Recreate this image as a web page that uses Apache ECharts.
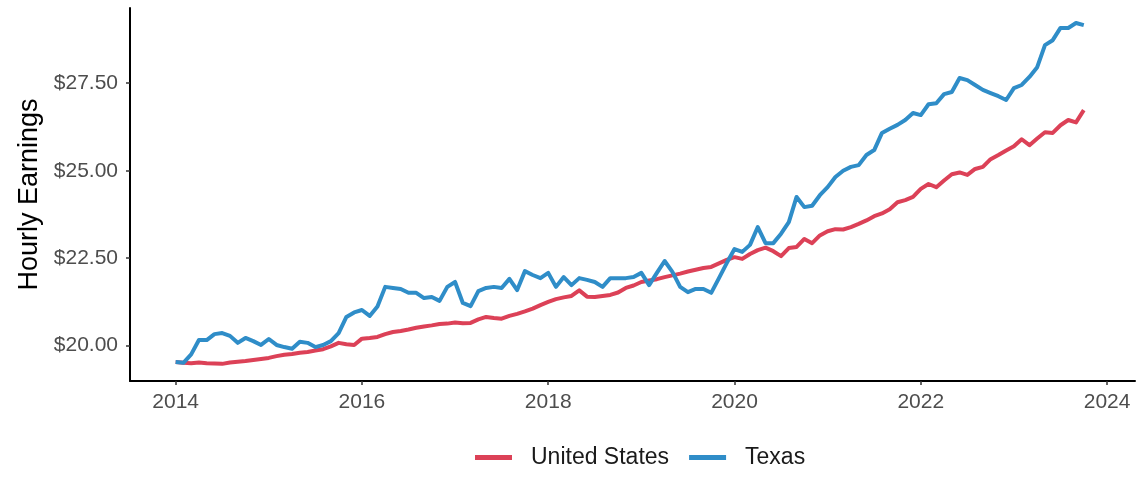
<!DOCTYPE html>
<html>
<head>
<meta charset="utf-8">
<title>Hourly Earnings</title>
<script src="https://cdn.jsdelivr.net/npm/echarts@6/dist/echarts.min.js"></script>
<style>
  html, body { margin: 0; padding: 0; background: #fff; }
  #chart { width: 1138px; height: 496px; }
</style>
</head>
<body>
<div id="chart"></div>
<script>
// monthly values, Jan 2014 .. Oct 2023
const startYear = 2014
const unitedStates = [
  19.53, 19.51, 19.50, 19.52, 19.50, 19.49, 19.48, 19.52, 19.54, 19.56, 19.59, 19.62,
  19.65, 19.70, 19.74, 19.76, 19.80, 19.82, 19.86, 19.90, 19.98, 20.08, 20.04, 20.02,
  20.20, 20.22, 20.25, 20.33, 20.39, 20.42, 20.46, 20.51, 20.55, 20.58, 20.62, 20.63,
  20.66, 20.64, 20.65, 20.75, 20.82, 20.79, 20.77, 20.85, 20.91, 20.98, 21.06, 21.16,
  21.25, 21.33, 21.38, 21.42, 21.58, 21.40, 21.39, 21.42, 21.45, 21.52, 21.65, 21.72,
  21.82, 21.86, 21.90, 21.96, 22.01, 22.06, 22.12, 22.17, 22.22, 22.25, 22.35, 22.45,
  22.53, 22.48, 22.62, 22.73, 22.80, 22.70, 22.56, 22.79, 22.82, 23.05, 22.93, 23.15,
  23.27, 23.33, 23.32, 23.39, 23.48, 23.58, 23.70, 23.78, 23.90, 24.10, 24.16, 24.25,
  24.48, 24.62, 24.53, 24.72, 24.90, 24.95, 24.88, 25.05, 25.11, 25.33, 25.45, 25.58,
  25.70, 25.90, 25.73, 25.92, 26.10, 26.08, 26.30, 26.45, 26.38, 26.73
]
const texas = [
  19.53, 19.51, 19.75, 20.16, 20.16, 20.33, 20.36, 20.28, 20.08, 20.22, 20.13, 20.02,
  20.19, 20.02, 19.96, 19.91, 20.11, 20.08, 19.96, 20.02, 20.13, 20.36, 20.82, 20.95,
  21.02, 20.85, 21.12, 21.68, 21.65, 21.62, 21.51, 21.51, 21.36, 21.39, 21.28, 21.68,
  21.82, 21.22, 21.13, 21.56, 21.65, 21.68, 21.65, 21.91, 21.59, 22.13, 22.02, 21.93,
  22.08, 21.68, 21.96, 21.73, 21.93, 21.88, 21.82, 21.68, 21.93, 21.93, 21.93, 21.96,
  22.08, 21.73, 22.08, 22.42, 22.11, 21.68, 21.53, 21.62, 21.62, 21.51, 21.93, 22.36,
  22.76, 22.68, 22.88, 23.39, 22.93, 22.93, 23.20, 23.53, 24.25, 23.96, 24.00, 24.30,
  24.53, 24.82, 25.00, 25.11, 25.16, 25.45, 25.59, 26.08, 26.20, 26.31, 26.45, 26.65,
  26.59, 26.90, 26.93, 27.19, 27.25, 27.65, 27.59, 27.45, 27.31, 27.22, 27.13, 27.02,
  27.36, 27.45, 27.68, 27.96, 28.59, 28.73, 29.08, 29.08, 29.22, 29.16
]
const xTicks = [2014, 2016, 2018, 2020, 2022, 2024]
const yTicks = [20, 22.5, 25, 27.5]
const seriesNames = ['United States', 'Texas']

const toPoints = arr => arr.map((v, i) => [startYear + i / 12, v])

let chartDom = document.getElementById('chart')
let chart = echarts.init(chartDom)

const font = 'Liberation Sans, Arial, sans-serif'

const option = {
  animation: false,
  grid: {
    left: 130,
    right: 3,
    top: 8,
    bottom: 115,
    containLabel: false
  },
  legend: {
    data: seriesNames,
    left: 470,
    top: 441,
    icon: 'rect',
    itemWidth: 37,
    itemHeight: 5,
    itemGap: 20,
    textStyle: {
      fontFamily: font,
      fontSize: 23,
      color: '#1a1a1a',
      padding: [0, 0, 0, 14]
    }
  },
  xAxis: {
    type: 'value',
    min: 2013.51,
    max: 2024.3,
    splitLine: { show: false },
    axisLine: { lineStyle: { color: '#000', width: 2 } },
    axisTick: {
      customValues: xTicks,
      length: 4,
      lineStyle: { color: '#333', width: 1.5 }
    },
    axisLabel: {
      customValues: xTicks,
      margin: 11,
      fontFamily: font,
      fontSize: 21,
      color: '#4d4d4d',
      formatter: v => String(v)
    }
  },
  yAxis: {
    type: 'value',
    min: 18.99,
    max: 29.65,
    name: 'Hourly Earnings',
    nameLocation: 'middle',
    nameGap: 86,
    nameRotate: 90,
    nameTextStyle: {
      fontFamily: font,
      fontSize: 27,
      color: '#000'
    },
    splitLine: { show: false },
    axisLine: { show: true, lineStyle: { color: '#000', width: 2 } },
    axisTick: {
      show: true,
      customValues: yTicks,
      length: 4,
      lineStyle: { color: '#333', width: 1.5 }
    },
    axisLabel: {
      customValues: yTicks,
      margin: 12,
      fontFamily: font,
      fontSize: 21,
      color: '#4d4d4d',
      formatter: v => '$' + v.toFixed(2)
    }
  },
  series: [
    {
      name: seriesNames[0],
      type: 'line',
      data: toPoints(unitedStates),
      showSymbol: false,
      color: '#dc4157',
      lineStyle: { width: 4, join: 'round' }
    },
    {
      name: seriesNames[1],
      type: 'line',
      data: toPoints(texas),
      showSymbol: false,
      color: '#2f8dc8',
      lineStyle: { width: 4, join: 'round' }
    }
  ]
}

chart.setOption(option)
</script>
</body>
</html>
